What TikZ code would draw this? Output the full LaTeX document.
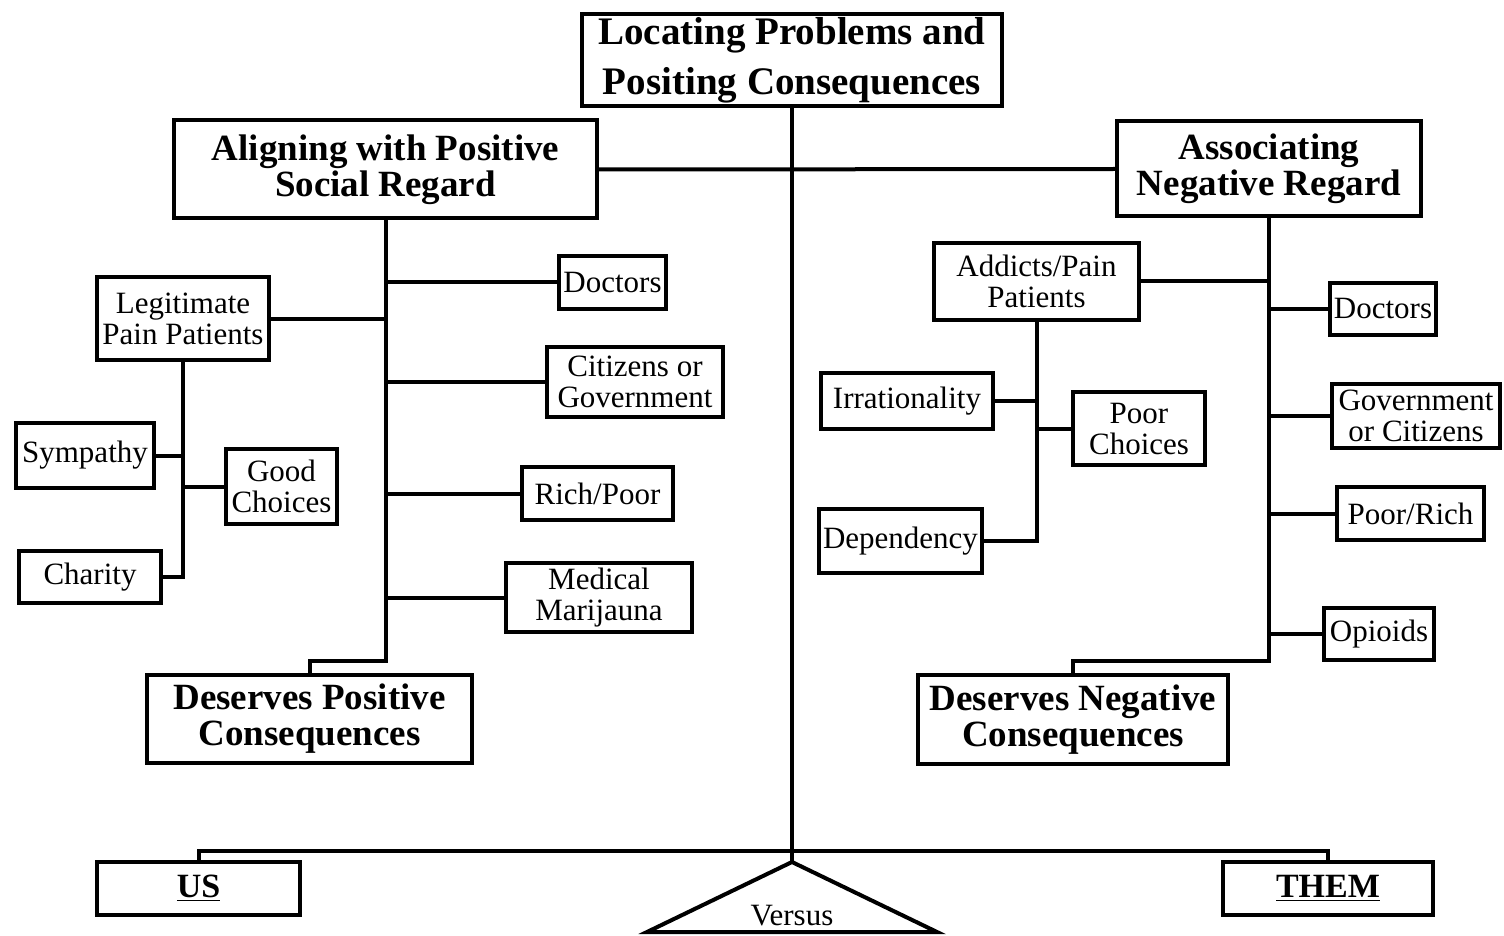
\documentclass[tikz,border=0pt]{standalone}
\usepackage{fontspec}
\setmainfont{Liberation Serif}
\tikzset{
  box/.style={draw, line width=2pt, align=center, inner sep=0pt},
  small/.style={font=\fontsize{15.5}{15.5}\selectfont},
  big/.style={font=\fontsize{18.5}{18}\selectfont\bfseries},
  link/.style={line width=2pt},
}
\begin{document}
\begin{tikzpicture}[x=0.5pt, y=-0.5pt]
    \useasboundingbox (0,0) rectangle (1504,936);
    % Top and the two regards
    \node [box, font=\fontsize{19.5}{25}\selectfont\bfseries, minimum width=210pt, minimum height=46pt] (top) at (792,60) {Locating Problems and\\Positing Consequences};
    \node [box, big, minimum width=211.5pt, minimum height=49pt] (align) at (385.5,169.5) {Aligning with Positive\\Social Regard};
    \node [box, big, minimum width=152pt, minimum height=47.5pt] (assoc) at (1269,169) {Associating\\Negative Regard};
    % Left side
    \node [box, small, minimum width=86pt, minimum height=41.5pt] (legit) at (183,318.5) {Legitimate\\Pain Patients};
    \node [box, small, minimum width=69pt, minimum height=32.5pt] (symp) at (85,455.5) {Sympathy};
    \node [box, small, minimum width=55.5pt, minimum height=37.5pt] (good) at (281.5,486.5) {Good\\Choices};
    \node [box, small, minimum width=71pt, minimum height=26pt] (charity) at (90,577) {Charity};
    \node [box, small, minimum width=53.5pt, minimum height=26.5pt] (ldoc) at (612.5,282.5) {Doctors};
    \node [box, small, minimum width=88pt, minimum height=35pt] (lcit) at (635,382) {Citizens or\\Government};
    \node [box, small, minimum width=75.5pt, minimum height=26.5pt] (lrich) at (597.5,493.5) {Rich/Poor};
    \node [box, small, minimum width=93pt, minimum height=34.5pt] (lmed) at (599,597.5) {Medical\\Marijauna};
    \node [box, big, minimum width=162.5pt, minimum height=44pt] (dpos) at (309.5,719) {Deserves Positive\\Consequences};
    % Right side
    \node [box, small, minimum width=102.5pt, minimum height=38.5pt] (addict) at (1036.5,281.5) {Addicts/Pain\\Patients};
    \node [box, small, minimum width=86pt, minimum height=28pt] (irr) at (907,401) {Irrationality};
    \node [box, small, minimum width=66pt, minimum height=36.5pt] (poorch) at (1139,428.5) {Poor\\Choices};
    \node [box, small, minimum width=81.5pt, minimum height=32pt] (dep) at (900.5,541) {Dependency};
    \node [box, small, minimum width=53pt, minimum height=26pt] (rdoc) at (1383,309) {Doctors};
    \node [box, small, minimum width=84pt, minimum height=32pt] (rgov) at (1416,416) {Government\\or Citizens};
    \node [box, small, minimum width=73.5pt, minimum height=26.5pt] (rpoor) at (1410.5,513.5) {Poor/Rich};
    \node [box, small, minimum width=55pt, minimum height=26pt] (opi) at (1379,634) {Opioids};
    \node [box, big, minimum width=155pt, minimum height=44.5pt] (dneg) at (1073,719.5) {Deserves Negative\\Consequences};
    % Scale
    \node [box, font=\fontsize{17}{17}\selectfont\bfseries, minimum width=101.5pt, minimum height=26.5pt] (us) at (198.5,888.5) {\underline{US}};
    \node [box, font=\fontsize{17}{17}\selectfont\bfseries, minimum width=105pt, minimum height=26.5pt] (them) at (1328,888.5) {\underline{THEM}};
    \coordinate (apex) at (792,862);
    \coordinate (tl) at (647,932);
    \coordinate (tr) at (937,932);
    \coordinate (beam) at (792,851);
    \coordinate (lbend) at (309.5,661);
    \coordinate (rbend) at (1073,661);
    \draw [link] (apex) -- (tl) -- (tr) -- cycle;
    \node [small] (versus) at (792,916) {Versus};
    % Connectors
    \draw [link] (top.south) -- (apex);
    \draw [link] (align.east) -- (assoc.west);
    \draw [link] (us.north) |- (beam) -| (them.north);
    \draw [link] (align.south) |- (lbend) -- (dpos.north);
    \draw [link] (assoc.south) |- (rbend) -- (dneg.north);
    \draw [link] (legit.east) -- (legit.east -| align.south);
    \draw [link] (ldoc.west) -- (ldoc.west -| align.south);
    \draw [link] (lcit.west) -- (lcit.west -| align.south);
    \draw [link] (lrich.west) -- (lrich.west -| align.south);
    \draw [link] (lmed.west) -- (lmed.west -| align.south);
    \draw [link] (legit.south) |- (charity.east);
    \draw [link] (symp.east) -- (symp.east -| legit.south);
    \draw [link] (good.west) -- (good.west -| legit.south);
    \draw [link] (addict.east) -- (addict.east -| assoc.south);
    \draw [link] (rdoc.west) -- (rdoc.west -| assoc.south);
    \draw [link] (rgov.west) -- (rgov.west -| assoc.south);
    \draw [link] (rpoor.west) -- (rpoor.west -| assoc.south);
    \draw [link] (opi.west) -- (opi.west -| assoc.south);
    \draw [link] (addict.south) |- (dep.east);
    \draw [link] (irr.east) -- (irr.east -| addict.south);
    \draw [link] (poorch.west) -- (poorch.west -| addict.south);
\end{tikzpicture}
\end{document}
